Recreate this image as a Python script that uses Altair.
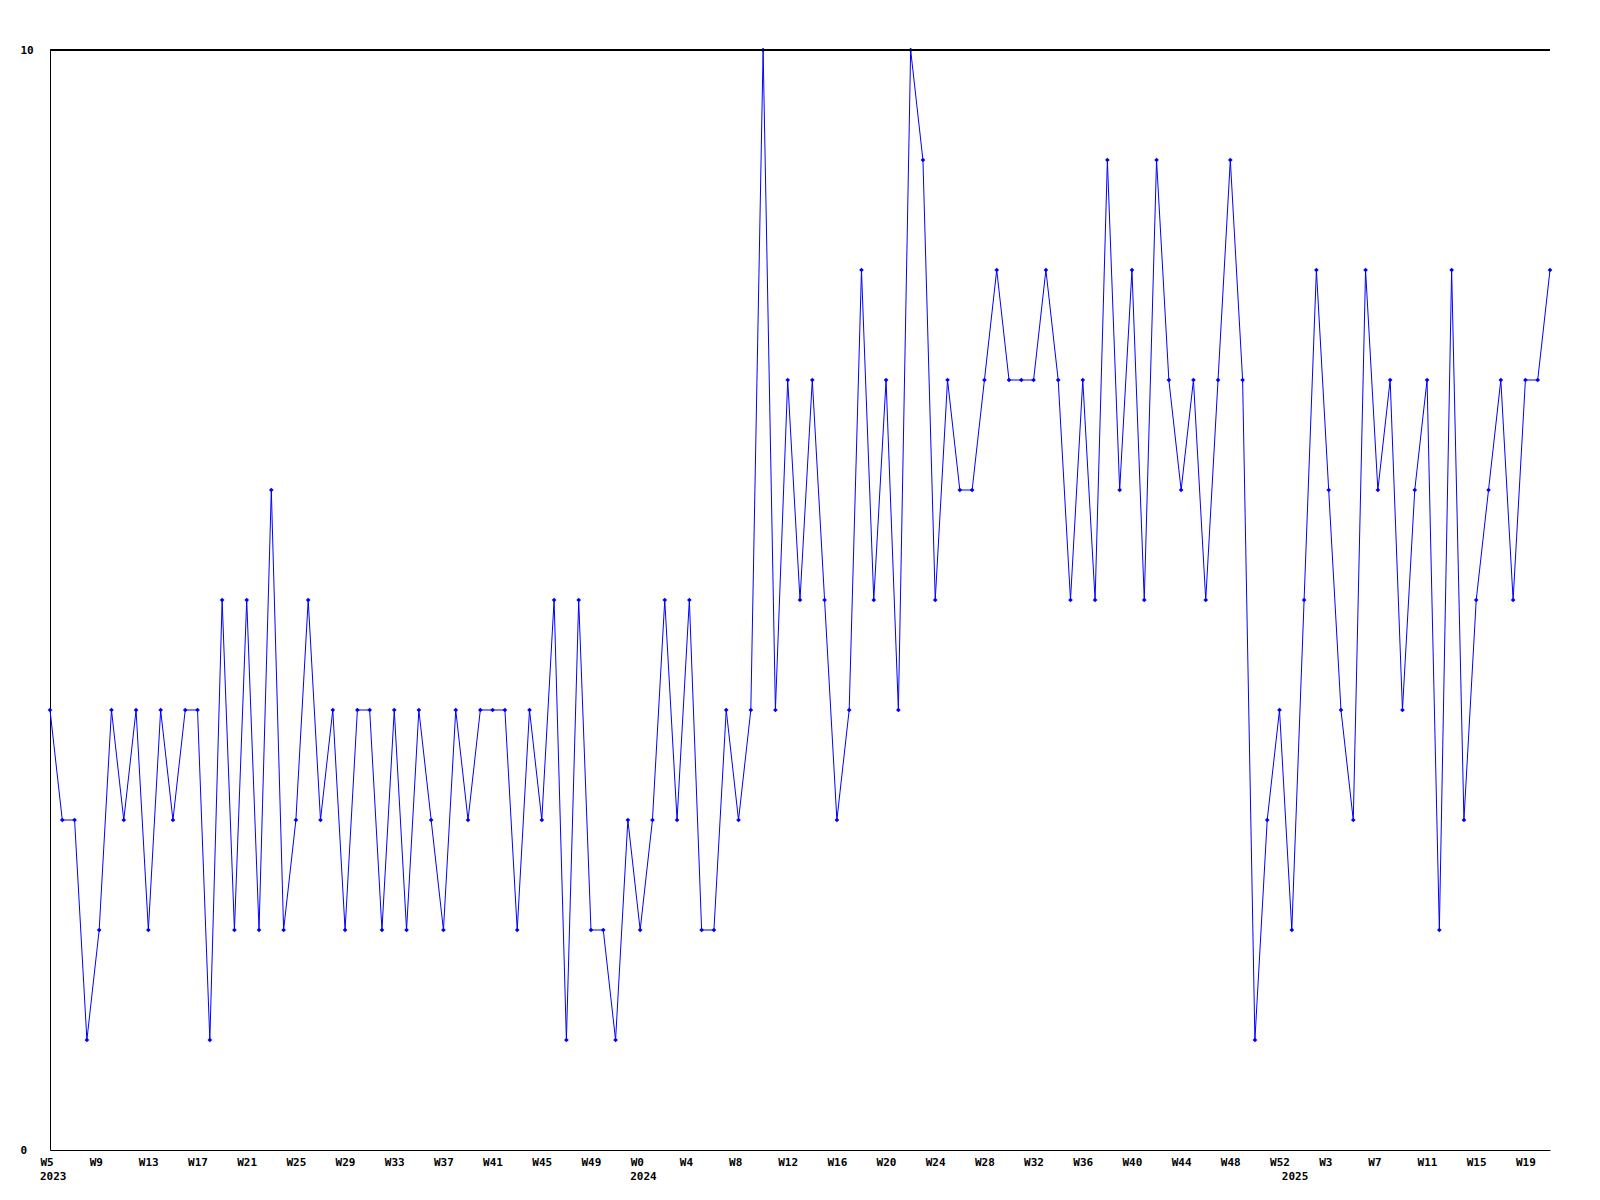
import altair as alt
import pandas as pd

# Week labels (category axis): 2023 W5..W52, 2024 W0..W52, 2025 W0..W21
weeks_2023 = list(range(5, 53))
weeks_2024 = list(range(0, 53))
weeks_2025 = list(range(0, 22))

values = [
    4, 3, 3, 1, 2, 4, 3, 4, 2, 4, 3, 4, 4, 1, 5, 2, 5, 2, 6, 2,
    3, 5, 3, 4, 2, 4, 4, 2, 4, 2, 4, 3, 2, 4, 3, 4, 4, 4, 2, 4,
    3, 5, 1, 5, 2, 2, 1, 3, 2, 3, 5, 3, 5, 2, 2, 4, 3, 4, 10, 4,
    7, 5, 7, 5, 3, 4, 8, 5, 7, 4, 10, 9, 5, 7, 6, 6, 7, 8, 7, 7,
    7, 8, 7, 5, 7, 5, 9, 6, 8, 5, 9, 7, 6, 7, 5, 7, 9, 7, 1, 3,
    4, 2, 5, 8, 6, 4, 3, 8, 6, 7, 4, 6, 7, 2, 8, 3, 5, 6, 7, 5,
    7, 7, 8,
]

years = [2023] * len(weeks_2023) + [2024] * len(weeks_2024) + [2025] * len(weeks_2025)
weeks = weeks_2023 + weeks_2024 + weeks_2025

df = pd.DataFrame({"idx": list(range(len(values))), "value": values,
                   "week": weeks, "year": years})

tick_idx = list(range(0, len(values), 4))
tick_labels = ["W%d" % weeks[i] for i in tick_idx]
label_js = "[" + ",".join("'%s'" % s for s in tick_labels) + "]"

# year labels at first week of each year
year_rows = []
for i, yv in enumerate(years):
    if i == 0 or years[i - 1] != yv:
        year_rows.append({"idx": i, "label": str(yv)})
ydf = pd.DataFrame(year_rows)

FONT = "DejaVu Sans Mono"
BLUE = "#0000ff"
W, H = 1500, 1100

xscale = alt.Scale(domain=[0, len(values) - 1], nice=False, zero=False)
x = alt.X("idx:Q", scale=xscale,
          axis=alt.Axis(values=tick_idx, title=None, grid=False, ticks=False, tickSize=0,
                        domainColor="black", domainWidth=1,
                        labelExpr="%s[round(datum.value/4)]" % label_js,
                        labelAlign="left", labelOffset=-10, labelBaseline="top",
                        labelPadding=6,
                        labelFont=FONT, labelFontSize=11, labelFontWeight="bold",
                        labelColor="black", labelOverlap=False, labelFlush=False))
y = alt.Y("value:Q", scale=alt.Scale(domain=[0, 10], nice=False),
          axis=alt.Axis(values=[0, 10], title=None, grid=False, ticks=False, tickSize=0,
                        domainColor="black", domainWidth=1,
                        labelAlign="left", labelPadding=30, labelBaseline="middle",
                        labelFont=FONT, labelFontSize=11, labelFontWeight="bold",
                        labelColor="black", labelFlush=False, format="d"))

base = alt.Chart(df)
line = base.mark_line(color=BLUE, strokeWidth=1, clip=False).encode(x=x, y=y)
pts = base.mark_point(shape="diamond", filled=True, size=22, color=BLUE, opacity=1).encode(x=x, y=y)
top = base.mark_rule(color="black", strokeWidth=1).encode(
    x=alt.value(0), x2=alt.value(W), y=alt.value(0))
yrs = alt.Chart(ydf).mark_text(
    font=FONT, fontSize=11, fontWeight="bold", color="black",
    align="left", baseline="top", dx=-10,
).encode(x=x, y=alt.value(H + 21), text="label:N")

chart = alt.layer(line, pts, top, yrs).properties(
    width=W, height=H,
    autosize=alt.AutoSizeParams(type="none"),
    padding={"left": 42, "top": 42, "right": 42, "bottom": 60},
    background="white",
).configure_view(stroke=None)

chart.save("out.html", embed_options={"renderer": "svg", "actions": False})
